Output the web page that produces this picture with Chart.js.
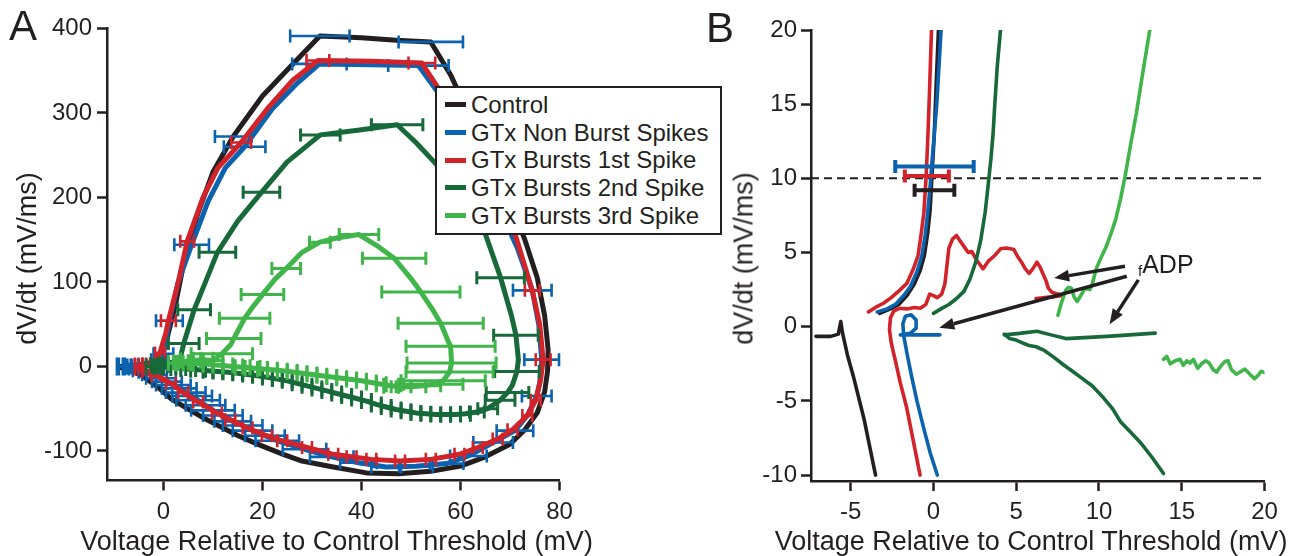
<!DOCTYPE html>
<html lang="en">
<head>
<meta charset="UTF-8">
<title>Phase plots: control vs GTx bursts</title>
<script src="https://cdn.jsdelivr.net/npm/chart.js"></script>
<style>
    body { margin: 0; background: #fff; overflow: hidden; }
    #wrap { position: relative; width: 1301px; height: 556px; font-family: 'Liberation Sans', Arial, Helvetica, sans-serif; color: #231f20; }
    canvas { position: absolute; top: 0; }
    #chartA { left: 0; }
    #chartB { left: 700px; }
    .panel-tag { position: absolute; font-size: 42px; line-height: 42px; }
    .axis-title { position: absolute; font-size: 27px; line-height: 27px; white-space: nowrap; text-align: center; }
    .axis-title.rot { width: 300px; height: 27px; transform: rotate(-90deg); }
    #legendA { position: absolute; left: 435px; top: 86px; width: 287px; height: 149px; box-sizing: border-box;
               border: 2px solid #231f20; background: #fff; padding-top: 3px; }
    .leg-row { display: flex; align-items: center; height: 27.7px; font-size: 24px; line-height: 27.7px; white-space: nowrap; }
    .leg-swatch { width: 21px; height: 5px; margin: 0 5px 0 8px; }
    #adp { position: absolute; left: 1138px; top: 252px; font-size: 25px; line-height: 25px; }
    #adp span { font-size: 15px; vertical-align: -3px; }
</style>
</head>
<body>
<div id="wrap">
    <canvas id="chartA" width="700" height="556"></canvas>
    <canvas id="chartB" width="601" height="556"></canvas>
    <div class="panel-tag" style="left:9px; top:5px;">A</div>
    <div class="panel-tag" style="left:706px; top:7px;">B</div>
    <div class="axis-title rot" style="left:-123px; top:245px;">dV/dt (mV/ms)</div>
    <div class="axis-title rot" style="left:594px; top:245px;">dV/dt (mV/ms)</div>
    <div class="axis-title" style="left:0; width:673px; top:528px;">Voltage Relative to Control Threshold (mV)</div>
    <div class="axis-title" style="left:731px; width:600px; top:528px;">Voltage Relative to Control Threshold (mV)</div>
    <div id="legendA"></div>
    <div id="adp"><span>f</span>ADP</div>
</div>

<script>
    // series names and colours
    const seriesNames = ['Control', 'GTx Non Burst Spikes', 'GTx Bursts 1st Spike', 'GTx Bursts 2nd Spike', 'GTx Bursts 3rd Spike'];
    const seriesColors = ['#231f20', '#0b63b0', '#d2232a', '#17693a', '#40b54a'];

    // axis ticks
    const ticksAx = [0, 20, 40, 60, 80];
    const ticksAy = [-100, 0, 100, 200, 300, 400];
    const ticksBx = [-5, 0, 5, 10, 15, 20];
    const ticksBy = [-10, -5, 0, 5, 10, 15, 20];

    // panel A: [voltage, dV/dt, horizontal error, (cap half-height)]
    const ctrlA = [
        [-8.8, 0, 0.6, 9], [-8.4, 0, 0.6, 9], [-7.6, 0.5, 0], [-5, 2, 0], [-2, 5, 0], [-0.5, 12, 0], [0.8, 35, 0],
        [2.5, 75, 0], [4.3, 128, 0], [7, 182, 0], [10, 230, 0], [14.1, 272, 3.7], [20, 320, 0], [26, 357, 0],
        [31.6, 391, 6], [40, 389, 0], [47, 386, 0], [54, 384, 6.5], [58, 345, 0], [62, 295, 0], [66, 245, 0],
        [70, 195, 0], [73, 150, 0], [75.5, 105, 0], [77, 60, 0], [77.7, 20, 0], [77.6, -5, 0], [77, -30, 0],
        [75.5, -55, 0], [73, -75, 0], [70, -92, 0], [65, -107, 0], [60, -118, 0], [54, -124, 0], [47.5, -127, 0],
        [41, -126, 0], [34.3, -119, 0], [28, -112, 0], [24.2, -104, 0], [19, -92, 0], [15.1, -82, 0], [8.4, -62, 0],
        [4, -47, 0], [1.7, -39, 0], [-1, -25, 0], [-4.5, -10, 0], [-8.8, -1, 0]
    ];
    const nonBurstA = [
        [-7.2, 0, 0.8, 8], [-6.5, 0, 0.8, 8], [-5.8, 1, 0.8, 7], [-3, 3, 0], [-1, 8, 1.5], [0, 15, 2], [1.2, 54, 2.7],
        [3, 100, 0], [5.7, 144, 3.5], [9, 195, 0], [12.5, 235, 0], [16.4, 260, 4.2], [22, 305, 0], [27, 335, 0],
        [31.5, 358, 5.5], [42, 357, 0], [51.5, 356, 6.1], [56, 320, 0], [60, 275, 0], [64, 230, 0], [68, 185, 0],
        [71.5, 140, 0], [74.5, 90, 3.9], [75.8, 50, 0], [76.4, 8, 3.5], [76, -20, 0], [75.4, -35, 3], [73.5, -58, 0],
        [71, -76, 3.7], [66.6, -90, 4], [61.6, -106, 3.7], [57.2, -115, 3.4], [51, -118, 3.4], [45, -119, 3],
        [39.4, -114, 3.7], [34, -107, 4.4], [28.5, -98, 4.4], [23, -88, 4.4], [20.5, -82, 4], [18, -76, 4],
        [16, -70, 4], [14, -65, 3.7], [12, -58, 4], [10, -52, 4.4], [8.5, -46, 4], [7, -40, 4.4], [5.8, -35, 4],
        [4.5, -31, 4], [3.2, -26, 3.5], [2, -22, 3.5], [0.7, -18, 3], [-0.5, -14, 3], [-1.8, -10, 2.5],
        [-3, -7, 2], [-4.2, -5, 2], [-5.5, -3, 1.5], [-7.2, -1, 0]
    ];
    const burst1A = [
        [-5, 0, 0.8, 9], [-4.3, 0, 0.8, 9], [-3.5, 1, 0.8, 8], [-2, 3, 0], [-0.7, 16, 1], [0.5, 40, 0], [1, 54, 1.5],
        [3, 100, 0], [4.8, 148, 1.4], [8, 200, 0], [11, 235, 0], [15.7, 265, 2], [21, 305, 0], [26, 338, 0],
        [31.2, 362, 2.3], [42, 361, 0], [52.2, 359, 2.7], [56, 325, 0], [60, 280, 0], [64, 235, 0], [68, 190, 0],
        [71, 157, 0], [74.5, 90, 1.5], [76, 50, 0], [76.7, 8, 1.5], [76.2, -15, 0], [75.2, -40, 1], [73.5, -58, 1],
        [70.5, -75, 1], [67.5, -86, 1], [63.5, -96, 1], [59.8, -104, 1], [54, -110, 1], [47.8, -112, 1],
        [42, -110, 1], [38, -107, 1], [34.3, -104, 1], [29, -96, 1], [24, -88, 1], [20.9, -82, 1], [17, -73, 1],
        [13.5, -63, 1], [10.8, -55, 1], [7, -42, 1], [4, -31, 1], [1.5, -20, 1], [-1.4, -11, 1], [-3.5, -6, 0.8],
        [-5, -2, 0]
    ];
    const burst2A = [
        [-2.5, 0, 1, 8], [-1.5, 1, 1, 8], [0, 2, 1, 8], [1.5, 3, 1.5, 7], [3.4, 10, 0], [4.1, 27, 3.1], [6.2, 67, 3.3],
        [8.5, 100, 0], [10.9, 135, 3.7], [15, 172, 0], [19.8, 206, 3.7], [25, 242, 0], [31.7, 274, 4], [40, 280, 0],
        [47.2, 286, 5.2], [51, 265, 0], [55, 240, 0], [60, 205, 0], [65, 157, 0], [68.1, 105, 4.8], [70.3, 60, 0],
        [71.2, 37, 4.5], [71.7, 8, 0], [71.4, -6, 4.5], [70.5, -22, 0], [69.5, -31, 4.3], [68, -40, 3],
        [65.5, -50, 2], [63.3, -54, 1.5], [61, -56, 1, 8], [59, -57, 1, 8], [57, -57, 1, 8], [55, -57, 1, 8],
        [53, -56, 1, 8], [51, -55, 1, 8], [49, -53, 1, 8], [47, -51, 1, 8], [45, -48, 1, 8], [43, -45, 1, 8],
        [41, -41, 1, 8], [39, -38, 1, 8], [37, -35, 1, 8], [35, -32, 1, 8], [33, -29, 1, 8], [31, -26, 1, 8],
        [29, -23, 1, 8], [27, -20, 1, 8], [25, -17, 1, 8], [23, -15, 1, 8], [21, -13, 1, 8], [19, -11, 1, 8],
        [17, -9.5, 1, 8], [15, -8, 1, 8], [13, -7, 1, 8], [11, -6, 1, 8], [9, -5, 1, 8], [7, -4, 1.5, 8],
        [5, -3, 1.5, 8], [3, -2, 1.5, 8], [1, -1, 1.5, 8], [-1, -0.5, 1, 8], [-2.5, 0, 0]
    ];
    const burst3A = [
        [2, 4, 1, 8], [3.5, 5, 1.5, 8], [5.5, 7, 2, 8], [8, 8, 2, 8], [10, 7, 2, 8], [11.8, 15, 6.2], [13.5, 25, 0],
        [14.2, 33, 5.5], [16.4, 57, 5.1], [18, 70, 0], [20, 85, 4.3], [22.5, 103, 0], [24.8, 116, 2.9],
        [28, 135, 0], [31.6, 147, 2.1], [35, 152, 0], [39.5, 156, 4], [43.1, 143, 0], [46.6, 128, 6.4],
        [50, 104, 0], [52, 88, 7.9], [54.5, 66, 0], [56, 51, 8.6], [57.5, 30, 0], [58, 24, 9], [58.2, 4, 9],
        [57.8, -6.5, 8.8], [56.5, -17, 8.5], [54.5, -21, 6], [52, -23, 4], [50, -24, 3], [48, -24, 2],
        [46, -23, 1.5, 8], [44, -21, 1, 8], [42, -19, 1, 8], [40, -17, 1, 8], [38, -15.5, 1, 8], [36, -14, 1, 8],
        [34, -12.5, 1, 8], [32, -11, 1, 8], [30, -9.5, 1, 8], [28, -8, 1, 8], [26, -6.5, 1, 8], [24, -5, 1, 8],
        [22, -4, 1, 8], [20, -3, 1, 8], [18, -2, 1.5, 8], [16, -1, 1.5, 8], [14, 0, 2, 8], [12, 1, 2, 8],
        [10, 2, 2, 8], [8, 3, 2, 8], [6, 3.5, 2, 8], [4, 4, 1.5, 8], [2, 4, 0]
    ];

    // panel B: traces near threshold [voltage, dV/dt]
    const ctrlBRest = [[-7.1, -0.65], [-6.2, -0.65], [-5.75, -0.5], [-5.6, 0.35], [-5.5, -0.4], [-5.2, -1.9],
        [-4.85, -3.3], [-4.2, -6.2], [-3.5, -10]];
    const ctrlBUp = [[-3.25, 0.9], [-2.6, 1.2], [-2.1, 1.5], [-1.6, 2.1], [-1.15, 2.9], [-0.8, 3.8], [-0.55, 4.8],
        [-0.35, 6.3], [-0.2, 7.9], [-0.1, 10], [0.05, 13], [0.15, 16], [0.3, 20]];
    const nonBurstBUp = [[-3.4, 1.0], [-2.8, 1.2], [-2.3, 1.5], [-1.8, 2.1], [-1.4, 2.7], [-1.0, 3.7], [-0.7, 4.8],
        [-0.5, 6.2], [-0.35, 7.7], [-0.2, 9.5], [-0.1, 11], [0.05, 13], [0.2, 15], [0.46, 20]];
    const nonBurstBDown = [[0.23, -10], [-0.2, -8.5], [-0.6, -6.8], [-1.0, -5], [-1.35, -3.2], [-1.6, -1.8],
        [-1.8, -0.6], [-1.85, 0.2], [-1.7, 0.7], [-1.35, 0.8], [-1.05, 0.45], [-1.05, -0.1], [-1.4, -0.45],
        [-2.0, -0.55], [0.39, -0.55]];
    const burst1BUp = [[-3.93, 1.0], [-3.5, 1.3], [-3.0, 1.6], [-2.55, 1.96], [-2.1, 2.4], [-1.62, 2.9],
        [-1.25, 3.8], [-0.93, 4.8], [-0.75, 6.2], [-0.58, 7.7], [-0.45, 10], [-0.35, 12.5], [-0.25, 15.5], [-0.12, 20]];
    const burst1BLow = [[-0.81, -10], [-1.2, -7.8], [-1.62, -5.45], [-2.0, -3.8], [-2.3, -2.3], [-2.55, -1.1],
        [-2.66, -0.2], [-2.6, 0.6], [-2.4, 1.05], [-2.08, 1.24], [-1.6, 1.2], [-1.16, 1.3], [-0.8, 1.25],
        [-0.46, 1.5], [-0.23, 2.2], [0.0, 2.1], [0.23, 1.96], [0.5, 2.2], [0.69, 2.9], [0.8, 4.0], [0.93, 5.3],
        [1.15, 5.9], [1.39, 6.15], [1.6, 5.8], [1.85, 5.4], [2.1, 5.0], [2.31, 5.07], [2.6, 4.5], [3.0, 3.9],
        [3.3, 4.4], [3.7, 4.8], [4.05, 5.25], [4.4, 5.3], [4.86, 5.2], [5.1, 4.7], [5.32, 4.35], [5.55, 3.9],
        [5.78, 3.6], [6.0, 3.9], [6.25, 4.35], [6.45, 4.0], [6.6, 3.6], [6.8, 3.1], [6.94, 2.6], [7.17, 2.3],
        [7.5, 2.2], [7.8, 2.1], [7.2, 2.0], [6.6, 1.95], [6.2, 1.9], [7.0, 2.0]];
    const burst2BUp = [[0.0, 0.9], [0.45, 1.2], [0.93, 1.5], [1.4, 1.9], [1.85, 2.4], [2.2, 3.2], [2.55, 4.35],
        [2.85, 5.8], [3.12, 7.7], [3.3, 9.5], [3.47, 11.3], [3.6, 13], [3.7, 14.9], [3.85, 17.5], [4.05, 20]];
    const burst2BFlat = [[4.28, -0.55], [5.2, -0.45], [6.25, -0.3], [7.1, -0.55], [8.0, -0.8], [10.5, -0.65], [13.4, -0.43]];
    const burst2BDown = [[4.28, -0.5], [4.6, -0.8], [5.0, -0.9], [5.4, -1.1], [5.78, -1.27], [6.2, -1.35],
        [6.7, -1.6], [7.2, -2.0], [7.87, -2.58], [8.4, -3.0], [9.0, -3.5], [9.6, -4.0], [10.2, -4.7],
        [10.8, -5.5], [11.3, -6.4], [11.9, -7.1], [12.5, -7.8], [13.2, -8.8], [13.9, -9.9]];
    const burst3BUp = [[7.52, 0.77], [7.7, 1.5], [7.98, 2.44], [8.15, 2.65], [8.33, 2.6], [8.5, 2.0], [8.68, 1.7],
        [8.9, 2.1], [9.1, 2.5], [9.25, 2.56], [9.45, 2.5], [9.6, 2.9], [9.83, 3.9], [10.1, 4.6], [10.4, 5.3],
        [10.7, 6.2], [11.0, 7.2], [11.3, 8.6], [11.57, 10.1], [11.9, 12.2], [12.26, 14.4], [12.6, 16.8], [13.07, 20]];
    const burst3BLow = [[13.9, -2.2], [14.1, -2.0], [14.3, -2.5], [14.6, -2.3], [14.9, -2.2], [15.1, -2.6],
        [15.3, -2.3], [15.5, -2.45], [15.7, -2.2], [15.96, -2.8], [16.2, -2.5], [16.45, -2.3], [16.66, -2.45],
        [16.9, -2.9], [17.1, -3.06], [17.4, -2.6], [17.6, -2.35], [17.8, -2.3], [18.0, -2.9], [18.3, -3.2],
        [18.6, -3.0], [18.8, -2.85], [19.0, -3.06], [19.2, -3.3], [19.4, -3.5], [19.6, -3.3], [19.8, -3.0], [20, -3.1]];

    // threshold means at the 10 mV/ms criterion [voltage, dV/dt, error]
    const ctrlThresh = [0.06, 9.2, 1.2];
    const nonBurstThresh = [0.06, 10.8, 2.37];
    const burst1Thresh = [-0.4, 10.16, 1.33];
    const thresholdLevel = 10;

    // fADP arrows [fromX, fromY, toX, toY]
    const adpArrows = [[11.57, 4.07, 7.29, 3.28], [11.68, 3.4, 0.35, -0.07], [12.38, 3.16, 10.64, 0.17]];

    const INK = '#231f20';
    Chart.defaults.font.family = "'Liberation Sans', Arial, Helvetica, sans-serif";
    Chart.defaults.color = INK;

    // legend
    const legendA = document.getElementById('legendA');
    seriesNames.forEach((name, i) => {
        const row = document.createElement('div');
        row.className = 'leg-row';
        row.innerHTML = `<span class="leg-swatch" style="background:${seriesColors[i]}"></span><span>${name}</span>`;
        legendA.appendChild(row);
    });

    // horizontal error bars, drawn right after each dataset
    const errorBars = {
        id: 'errorBars',
        afterDatasetDraw(chart, args) {
            const ds = chart.data.datasets[args.index];
            if (!ds.errX) return;
            const { ctx, scales: { x, y } } = chart;
            ctx.save();
            ctx.strokeStyle = ds.errColor;
            ctx.lineWidth = ds.errWidth;
            ds.data.forEach((p, i) => {
                const e = ds.errX[i];
                if (!e) return;
                const cap = ds.caps[i] || ds.capSize;
                const py = y.getPixelForValue(p.y);
                const x0 = x.getPixelForValue(p.x - e);
                const x1 = x.getPixelForValue(p.x + e);
                ctx.beginPath();
                ctx.moveTo(x0, py); ctx.lineTo(x1, py);
                ctx.moveTo(x0, py - cap); ctx.lineTo(x0, py + cap);
                ctx.moveTo(x1, py - cap); ctx.lineTo(x1, py + cap);
                ctx.stroke();
            });
            ctx.restore();
        }
    };

    const arrowNotes = {
        id: 'arrowNotes',
        afterDatasetsDraw(chart) {
            const { ctx, scales: { x, y } } = chart;
            ctx.save();
            ctx.strokeStyle = INK;
            ctx.fillStyle = INK;
            ctx.lineWidth = 3.5;
            adpArrows.forEach(([x0, y0, x1, y1]) => {
                const ax = x.getPixelForValue(x0), ay = y.getPixelForValue(y0);
                const bx = x.getPixelForValue(x1), by = y.getPixelForValue(y1);
                const ang = Math.atan2(by - ay, bx - ax);
                const head = 15, half = 6;
                const hx = bx - head * Math.cos(ang), hy = by - head * Math.sin(ang);
                ctx.beginPath(); ctx.moveTo(ax, ay); ctx.lineTo(hx, hy); ctx.stroke();
                ctx.beginPath();
                ctx.moveTo(bx, by);
                ctx.lineTo(hx + half * Math.sin(ang), hy - half * Math.cos(ang));
                ctx.lineTo(hx - half * Math.sin(ang), hy + half * Math.cos(ang));
                ctx.closePath();
                ctx.fill();
            });
            ctx.restore();
        }
    };

    function makeAxis(min, max, ticks, tickPad, size, horizontal) {
        return {
            type: 'linear',
            min: min,
            max: max,
            afterBuildTicks: s => { s.ticks = ticks.map(v => ({ value: v })); },
            afterFit: s => { if (horizontal) s.height = size; else s.width = size; },
            ticks: { font: { size: 24 }, color: INK, padding: tickPad, autoSkip: false, maxRotation: 0 },
            grid: { drawOnChartArea: false, drawTicks: true, tickLength: 10, tickWidth: 2.5, tickColor: INK },
            border: { display: true, color: INK, width: 2.5 }
        };
    }

    function trace(pts, color, width, errColor, errWidth, capSize) {
        const ds = {
            data: pts.map(p => ({ x: p[0], y: p[1] })),
            borderColor: color,
            borderWidth: width,
            showLine: true,
            pointRadius: 0,
            tension: 0,
            fill: false,
            borderJoinStyle: 'round',
            borderCapStyle: 'round'
        };
        if (errColor) {
            ds.errX = pts.map(p => p[2] || 0);
            ds.caps = pts.map(p => p[3] || 0);
            ds.errColor = errColor;
            ds.errWidth = errWidth;
            ds.capSize = capSize;
        }
        return ds;
    }

    function baseOptions(padding) {
        return {
            responsive: false,
            animation: false,
            devicePixelRatio: 1,
            events: [],
            layout: { padding: padding },
            plugins: { legend: { display: false }, tooltip: { enabled: false } }
        };
    }

    window.onload = function () {
        const [cK, cB, cR, cD, cL] = seriesColors;

        // panel A: full phase plots (first dataset drawn on top)
        const optsA = baseOptions({ left: 0, top: 28.4, right: 140.5, bottom: 0 });
        optsA.scales = {
            x: makeAxis(-11.4, 80, ticksAx, 7, 75.5, true),
            y: makeAxis(-135, 400, ticksAy, 5, 107, false)
        };
        new Chart(document.getElementById('chartA'), {
            type: 'scatter',
            data: {
                datasets: [
                    trace(burst3A, cL, 5, cL, 3, 6.5),
                    trace(burst2A, cD, 5, cD, 3, 6.5),
                    trace(burst1A, cR, 5, cR, 2.6, 6.5),
                    trace(nonBurstA, cB, 5, cB, 2.6, 6.5),
                    trace(ctrlA, cK, 5, cB, 2.6, 6.5)
                ]
            },
            options: optsA,
            plugins: [errorBars]
        });

        // panel B: close-up around threshold
        const optsB = baseOptions({ left: 0, top: 30, right: 36.5, bottom: 0 });
        optsB.scales = {
            x: makeAxis(-7.4, 20, ticksBx, 7, 75, true),
            y: makeAxis(-10.4, 20, ticksBy, 4, 111, false)
        };
        const dashed = trace([[-7.4, thresholdLevel], [20, thresholdLevel]], INK, 2);
        dashed.borderDash = [8, 5];
        dashed.borderCapStyle = 'butt';
        const threshBar = (t, color) => {
            const ds = trace([t], color, 0, color, 4, 6.5);
            ds.showLine = false;
            return ds;
        };
        new Chart(document.getElementById('chartB'), {
            type: 'scatter',
            data: {
                datasets: [
                    threshBar(nonBurstThresh, cB),
                    threshBar(burst1Thresh, cR),
                    threshBar(ctrlThresh, cK),
                    trace(burst3BUp, cL, 3.6),
                    trace(burst3BLow, cL, 3.6),
                    trace(burst2BUp, cD, 3.6),
                    trace(burst2BFlat, cD, 3.6),
                    trace(burst2BDown, cD, 3.6),
                    trace(burst1BUp, cR, 3.6),
                    trace(burst1BLow, cR, 3.6),
                    trace(nonBurstBUp, cB, 3.6),
                    trace(nonBurstBDown, cB, 3.6),
                    trace(ctrlBUp, cK, 3.6),
                    trace(ctrlBRest, cK, 3.6),
                    dashed
                ]
            },
            options: optsB,
            plugins: [errorBars, arrowNotes]
        });
    };
</script>
</body>
</html>
